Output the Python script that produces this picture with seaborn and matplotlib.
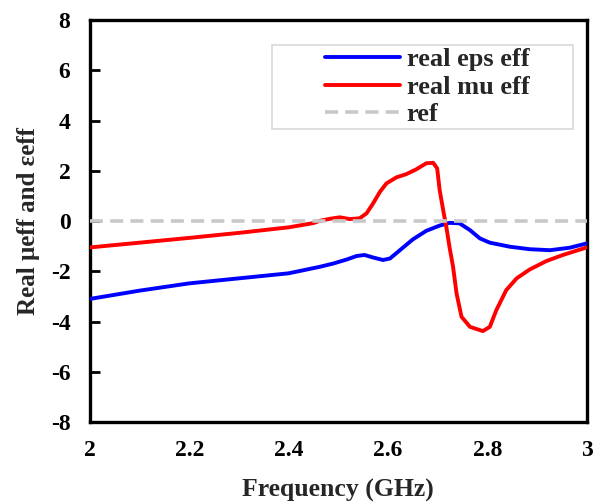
import matplotlib
matplotlib.use("Agg")
import matplotlib.pyplot as plt
from matplotlib.patches import Rectangle
import seaborn as sns

freq_mu = [2.00, 2.10, 2.20, 2.30, 2.40, 2.45, 2.463, 2.483, 2.503, 2.523, 2.543, 2.557, 2.570, 2.584, 2.597,
           2.617, 2.637, 2.657, 2.677, 2.691, 2.699, 2.704, 2.711, 2.718, 2.724, 2.731, 2.738, 2.748, 2.765,
           2.791, 2.805, 2.818, 2.838, 2.859, 2.885, 2.919, 2.952, 3.00]
mu_eff = [-1.05, -0.86, -0.67, -0.47, -0.25, -0.08, 0.01, 0.09, 0.15, 0.08, 0.11, 0.31, 0.70, 1.17, 1.50,
          1.74, 1.87, 2.06, 2.30, 2.32, 2.10, 1.24, 0.45, -0.30, -1.05, -1.82, -2.88, -3.81, -4.21,
          -4.38, -4.21, -3.55, -2.75, -2.28, -1.93, -1.59, -1.35, -1.05]

freq_eps = [2.00, 2.10, 2.20, 2.30, 2.40, 2.463, 2.490, 2.517, 2.537, 2.553, 2.570, 2.590, 2.604, 2.624,
            2.650, 2.677, 2.704, 2.724, 2.744, 2.765, 2.785, 2.805, 2.845, 2.885, 2.926, 2.966, 3.00]
eps_eff = [-3.10, -2.77, -2.48, -2.28, -2.08, -1.82, -1.69, -1.53, -1.39, -1.35, -1.45, -1.55, -1.49, -1.16,
           -0.73, -0.39, -0.18, -0.07, -0.09, -0.36, -0.69, -0.86, -1.02, -1.12, -1.16, -1.06, -0.89]

ref_x = [2.0, 3.0]
ref_y = [0.0, 0.0]

x_ticks = [2, 2.2, 2.4, 2.6, 2.8, 3]
x_tick_labels = ["2", "2.2", "2.4", "2.6", "2.8", "3"]
y_ticks = [-8, -6, -4, -2, 0, 2, 4, 6, 8]

sns.set_theme(style="white")
plt.rcParams['font.family'] = ['Liberation Serif', 'DejaVu Serif']
plt.rcParams['font.weight'] = 'bold'

fig, ax = plt.subplots(figsize=(6.03, 5.03), dpi=100)
fig.subplots_adjust(left=0.149, right=0.973, top=0.96, bottom=0.161)

sns.lineplot(x=freq_eps, y=eps_eff, ax=ax, color="#0000ff", linewidth=2.8, label="real eps eff", zorder=3)
sns.lineplot(x=freq_mu, y=mu_eff, ax=ax, color="#ff0000", linewidth=2.8, label="real mu eff", zorder=4)
sns.lineplot(x=ref_x, y=ref_y, ax=ax, color="#c8c8c8", linewidth=2.6, linestyle=(0, (3.6, 2.0)),
             label="ref", zorder=5)

ax.set_xlim(2, 3)
ax.set_ylim(-8, 8)
ax.set_xticks(x_ticks)
ax.set_xticklabels(x_tick_labels)
ax.set_yticks(y_ticks)
ax.set_yticklabels([str(v) for v in y_ticks])

for lab in ax.get_xticklabels() + ax.get_yticklabels():
    lab.set_fontsize(17)
    lab.set_fontweight('bold')

ax.tick_params(axis='y', direction='in', length=7, width=2, left=True, pad=14, colors='black')
ax.tick_params(axis='x', length=0, pad=13, colors='black')

for s in ax.spines.values():
    s.set_linewidth(2.4)
    s.set_color('black')

ax.set_xlabel("Frequency (GHz)", fontsize=18.5, fontweight='bold', labelpad=13)
ax.set_ylabel("Real μeff and εeff", fontsize=18, fontweight='bold', labelpad=8)

# legend frame (wide light-gray box as in reference)
ax.add_patch(Rectangle((0.366, 0.729), 0.606, 0.209, transform=ax.transAxes, facecolor='white',
                       edgecolor='#d9d9d9', linewidth=1.2, zorder=6))
leg = ax.legend(loc='center left', bbox_to_anchor=(0.473, 0.8335), fontsize=19, frameon=False,
                handlelength=2.85, handletextpad=0.25, borderpad=0, labelspacing=0.16, borderaxespad=0)
leg.set_zorder(7)
for t in leg.get_texts():
    t.set_fontweight('bold')

fig.savefig("out.png", dpi=100)
